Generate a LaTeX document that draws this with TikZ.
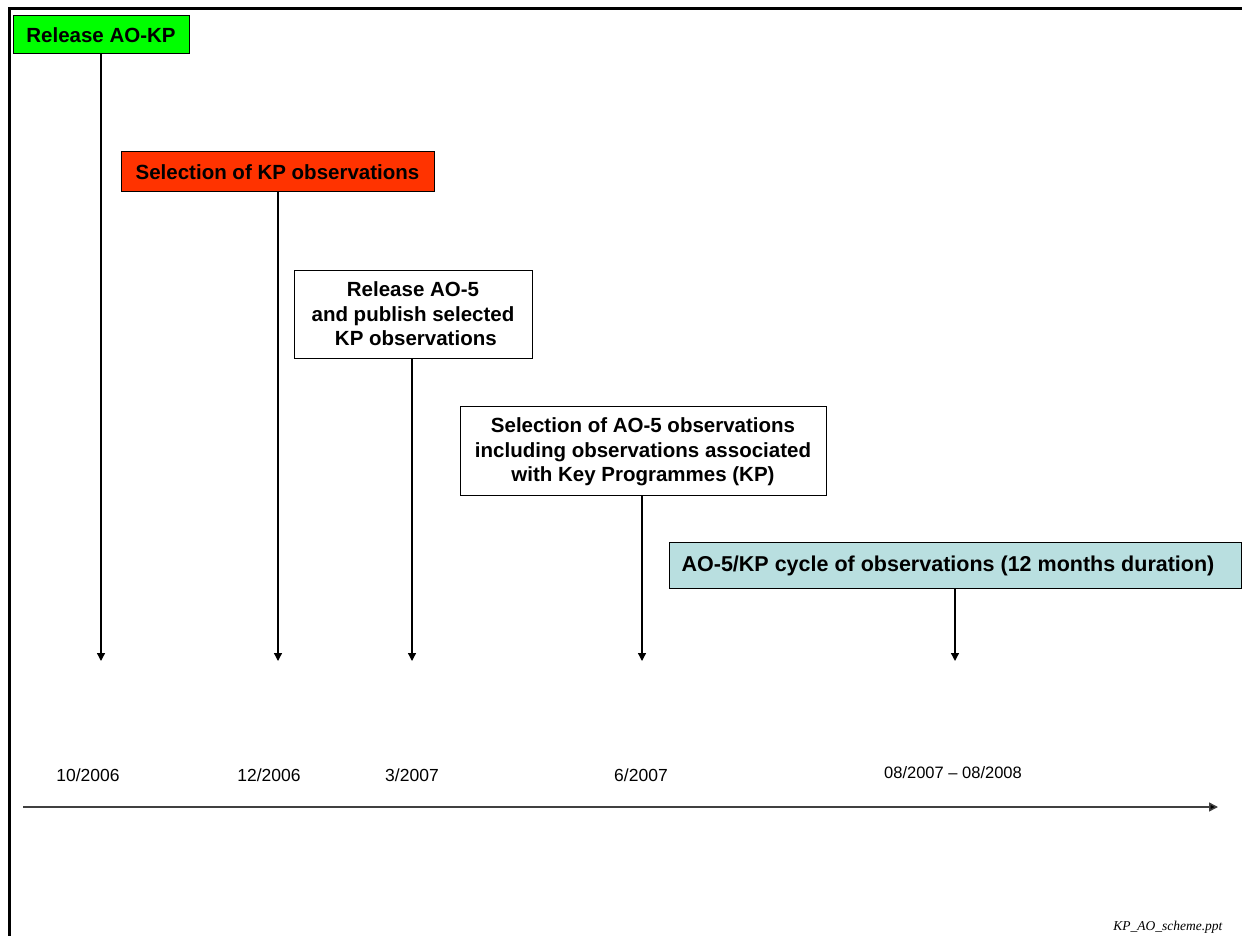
\documentclass[tikz,border=0pt]{standalone}
\usepackage{fontspec}
\setmainfont{Liberation Sans}
\newfontfamily\footfont{Liberation Serif}
\usetikzlibrary{arrows.meta}
\definecolor{kpgreen}{RGB}{0,255,0}
\definecolor{kpred}{RGB}{255,51,0}
\definecolor{kpcyan}{RGB}{185,223,224}
\tikzset{
  evbox/.style={draw=black, line width=1pt, inner sep=0pt, align=center,
    font=\fontsize{20.5}{24.5}\selectfont\bfseries, text=black},
  drop/.style={line width=1.3pt, -{Triangle[length=8pt,width=8pt]}},
  datelbl/.style={font=\fontsize{17.5}{20}\selectfont, text=black},
  frameline/.style={line width=3pt, black}
}
\begin{document}
\begin{tikzpicture}[x=1pt,y=-1pt]
\useasboundingbox (0,0) rectangle (1242,936);
% frame
\draw[frameline] (9,936) -- (9,9) -- (1242,9);
% boxes
\node[evbox, fill=kpgreen, minimum width=176pt, minimum height=38pt] (b1) at (101,35) {Release AO-KP};
\node[evbox, fill=kpred, minimum width=313pt, minimum height=40pt] (b2) at (277.5,172) {Selection of KP observations};
\node[evbox, fill=white, minimum width=238pt, minimum height=88pt] (b3) at (413,314) {Release AO-5\\and publish selected\\\mbox{}\ KP observations};
\node[evbox, fill=white, minimum width=366pt, minimum height=89pt] (b4) at (643,450.5) {\rule{0pt}{18pt}Selection of AO-5 observations\\including observations associated\\with Key Programmes (KP)};
\node[evbox, fill=kpcyan, minimum width=572pt, minimum height=46pt, font=\fontsize{21.5}{24.5}\selectfont\bfseries] (b5) at (955,565) {\rule{0pt}{17pt}AO-5/KP cycle of observations (12 months duration)\hspace*{14pt}};
% end points
\coordinate (e1) at (101,661);
\coordinate (e2) at (278,661);
\coordinate (e3) at (412,661);
\coordinate (e4) at (642,661);
\coordinate (e5) at (955,661);
\draw[drop] (b1.south -| e1) -- (e1);
\draw[drop] (b2.south -| e2) -- (e2);
\draw[drop] (b3.south -| e3) -- (e3);
\draw[drop] (b4.south -| e4) -- (e4);
\draw[drop] (b5.south -| e5) -- (e5);
% dates
\node[datelbl] (d1) at (88,775) {10/2006};
\node[datelbl] (d2) at (269,775) {12/2006};
\node[datelbl] (d3) at (412,775) {3/2007};
\node[datelbl] (d4) at (641,775) {6/2007};
\node[datelbl, font=\fontsize{16.5}{20}\selectfont] (d5) at (953,773) {08/2007 -- 08/2008};
% axis
\coordinate (a0) at (23,807);
\coordinate (a1) at (1218,807);
\draw[line width=1.5pt, draw=black!75, -{Triangle[length=9pt,width=9pt,fill=black]}] (a0) -- (a1);
% footer
\node[font=\footfont\itshape\fontsize{13.5}{15}\selectfont, anchor=east] (ft) at (1226,927) {KP\_AO\_scheme.ppt};
\end{tikzpicture}
\end{document}
